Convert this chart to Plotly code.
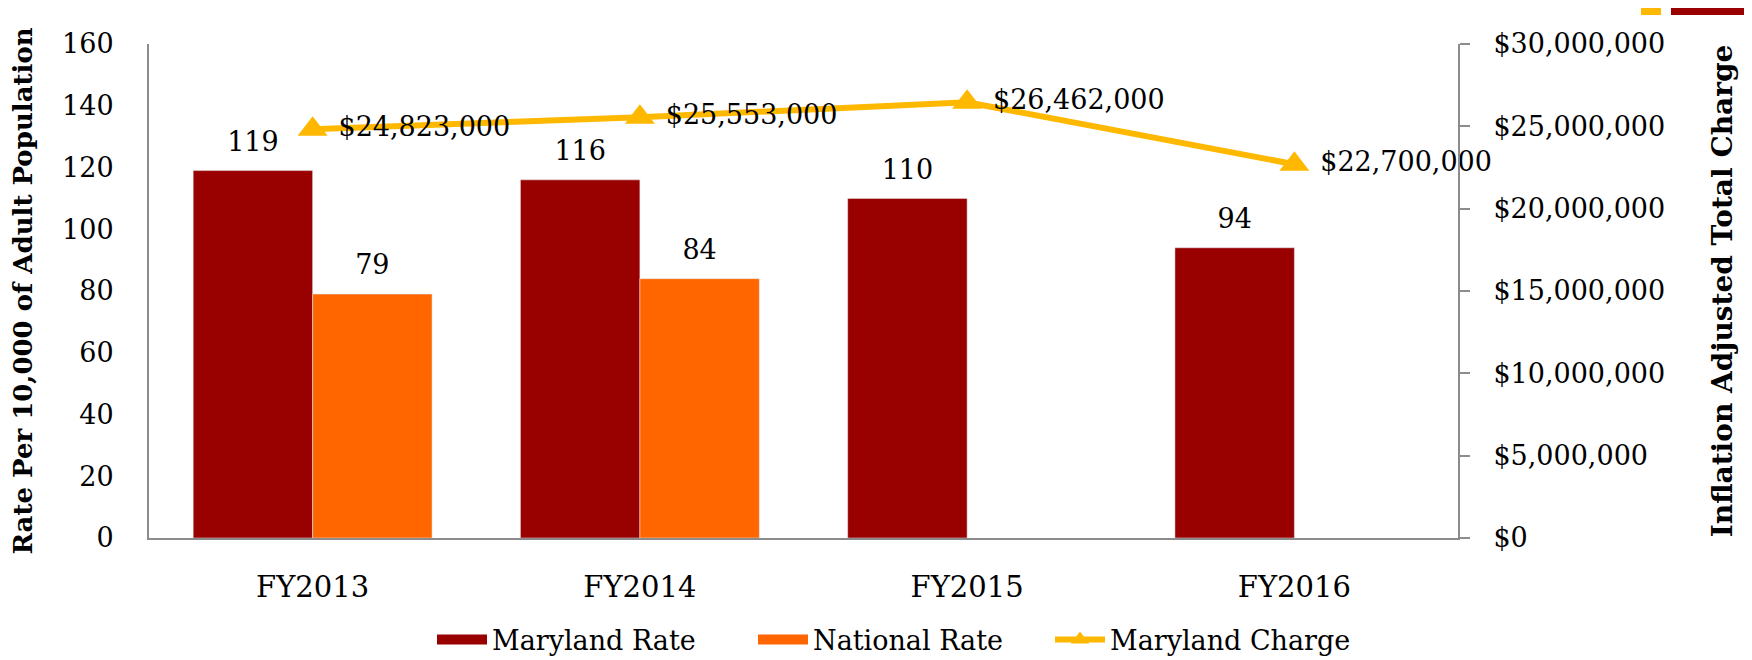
import plotly.graph_objects as go

years = ["FY2013", "FY2014", "FY2015", "FY2016"]
maryland_rate = [119, 116, 110, 94]
national_rate = [79, 84, None, None]
maryland_charge = [24823000, 25553000, 26462000, 22700000]

FONT = "Rockwell, 'DejaVu Serif', serif"
RED = "#990000"
ORANGE = "#FF6600"
GOLD = "#FFB800"
LABEL_PAD = 3.5  # gap between bar top and its value label, in axis units

W, H = 1752, 660
OFF = 8  # page offset of the figure in the screenshot
# plot area in screen pixels
L, R, T, B = 149, 1458, 44, 538


def py(p):
    return (B - p) / (B - T)


def px(p):
    return (p - L) / (R - L)


fig = go.Figure()

for name, vals, col, grp in [("Maryland Rate", maryland_rate, RED, "md"),
                             ("National Rate", national_rate, ORANGE, "nat")]:
    fig.add_trace(go.Bar(
        x=years, y=vals, name=name, showlegend=False,
        marker_color=col, offsetgroup=grp,
    ))
    # invisible spacer on top of each bar carrying the value label
    fig.add_trace(go.Bar(
        x=years, y=[LABEL_PAD if v is not None else None for v in vals],
        base=vals, offsetgroup=grp, showlegend=False, hoverinfo="skip",
        marker=dict(color="rgba(0,0,0,0)", line_width=0),
        text=vals, textposition="outside",
        textfont=dict(size=27, color="black"),
        cliponaxis=False,
    ))

fig.add_trace(go.Scatter(
    x=years, y=maryland_charge, name="Maryland Charge",
    yaxis="y2", mode="lines+markers+text", showlegend=False,
    line=dict(color=GOLD, width=6),
    marker=dict(symbol="triangle-up", size=26, color=GOLD),
    texttemplate=" $%{y:,.0f}", textposition="middle right",
    textfont=dict(size=27, color="black"),
    cliponaxis=False,
))

# legend entries with wide swatches
for name, col, lw in [("Maryland Rate", RED, 256), ("National Rate", ORANGE, 232)]:
    fig.add_trace(go.Scatter(
        x=[None], y=[None], name=name, mode="lines",
        line=dict(color=col, width=16), legendwidth=lw,
    ))
fig.add_trace(go.Scatter(
    x=[None], y=[None], name="Maryland Charge", mode="lines+markers",
    line=dict(color=GOLD, width=6), legendwidth=262,
    marker=dict(symbol="triangle-up", size=16, color=GOLD),
))

fig.update_layout(
    width=W, height=H,
    paper_bgcolor="white", plot_bgcolor="white",
    font=dict(family=FONT, size=27, color="black"),
    margin=dict(l=L - OFF, r=W - (R - OFF), t=T - OFF, b=H - (B - OFF),
                autoexpand=False),
    barmode="group", bargap=0.27, bargroupgap=0,
    showlegend=True,
    legend=dict(
        orientation="h", x=px(432), xanchor="left", y=py(640), yanchor="middle",
        font=dict(size=27), itemwidth=50, traceorder="normal",
    ),
    xaxis=dict(
        showline=True, linecolor="#8c8c8c", linewidth=2,
        ticks="", ticklabelstandoff=22, showgrid=False,
        tickfont=dict(size=29),
    ),
    yaxis=dict(
        range=[0, 160], dtick=20, showline=True, linecolor="#8c8c8c", linewidth=2,
        ticks="", ticklabelstandoff=28, showgrid=False, zeroline=False,
        title=dict(text="<b>Rate Per 10,000 of Adult Population</b>",
                   font=dict(size=26), standoff=34),
    ),
    yaxis2=dict(
        overlaying="y", side="right", range=[0, 30000000], dtick=5000000,
        tickprefix="$", tickformat=",.0f",
        showline=True, linecolor="#8c8c8c", linewidth=2,
        ticks="outside", ticklen=10, tickwidth=2, tickcolor="#8c8c8c",
        ticklabelstandoff=18, showgrid=False, zeroline=False,
        title=dict(text="<b>Inflation Adjusted Total Charge</b>",
                   font=dict(size=28), standoff=48),
    ),
    shapes=[
        dict(type="rect", xref="paper", yref="paper",
             x0=px(1641), x1=px(1661), y0=py(15), y1=py(-10),
             fillcolor=GOLD, line_width=0, layer="above"),
        dict(type="rect", xref="paper", yref="paper",
             x0=px(1671), x1=px(1780), y0=py(15), y1=py(-10),
             fillcolor=RED, line_width=0, layer="above"),
    ],
)

fig.write_html("out.html")
